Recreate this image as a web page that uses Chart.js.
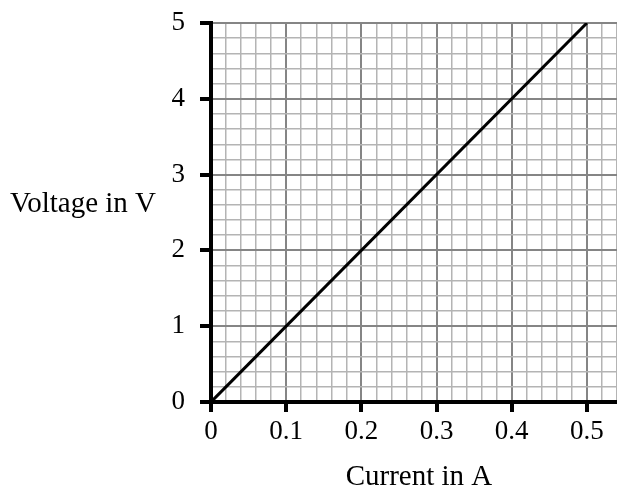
<!DOCTYPE html>
<html>
<head>
<meta charset="utf-8">
<script src="https://cdn.jsdelivr.net/npm/chart.js@4/dist/chart.umd.min.js"></script>
<style>
  body { margin: 0; background: #fff; }
  #wrap { width: 617px; height: 489px; }
</style>
</head>
<body>
<div id="wrap"><canvas id="chart" width="617" height="489"></canvas></div>
<script>
// data
const currents = [0, 0.5];      // A
const voltages = [0, 5];        // V
const xTickLabels = ["0", "0.1", "0.2", "0.3", "0.4", "0.5"];
const yTickLabels = ["0", "1", "2", "3", "4", "5"];
const xTitle = "Current in A";
const yTitle = "Voltage in V";

const FONT = '"Liberation Serif", "Times New Roman", serif';

// major line every 5th minor step
function isMajor(v, per) {
  return Math.abs(Math.round(v * per) % 5) === 0;
}

// both axis titles are horizontal, drawn by hand
const titlesPlugin = {
  id: "axisTitles",
  afterDraw(chart) {
    const ctx = chart.ctx;
    ctx.save();
    ctx.font = "29px " + FONT;
    ctx.fillStyle = "#000";
    ctx.textBaseline = "alphabetic";
    ctx.textAlign = "left";
    ctx.fillText(yTitle, 10, 212);
    ctx.textAlign = "center";
    ctx.fillText(xTitle, 419, 485);
    ctx.restore();
  }
};

new Chart(document.getElementById("chart"), {
  type: "scatter",
  data: {
    datasets: [{
      data: currents.map((c, i) => ({ x: c, y: voltages[i] })),
      showLine: true,
      borderColor: "#000",
      borderWidth: 3,
      pointRadius: 0,
    }],
  },
  options: {
    responsive: false,
    animation: false,
    layout: { padding: { top: 23, left: 0, right: 0, bottom: 0 } },
    plugins: { legend: { display: false }, tooltip: { enabled: false } },
    scales: {
      x: {
        type: "linear",
        min: 0,
        max: 0.54,
        afterFit: (s) => {
          s.height = 87;
          s.paddingLeft = 0;
          s.paddingRight = 0;
        },
        ticks: {
          stepSize: 0.02,
          autoSkip: false,
          maxRotation: 0,
          padding: 4,
          color: "#000",
          font: { family: FONT, size: 27 },
          callback: (v) => isMajor(v, 50) ? xTickLabels[Math.round(v * 10)] : "",
        },
        grid: {
          color: (c) => isMajor(c.tick.value, 50) ? "#858585" : "#b4b4b4",
          lineWidth: (c) => isMajor(c.tick.value, 50) ? 2 : 1.5,
          tickColor: (c) => isMajor(c.tick.value, 50) ? "#000" : "rgba(0,0,0,0)",
          tickWidth: 4,
          tickLength: 10,
        },
        border: { color: "#000", width: 4 },
      },
      y: {
        min: 0,
        max: 5,
        afterFit: (s) => {
          s.width = 211;
          s.paddingTop = 0;
          s.paddingBottom = 0;
        },
        ticks: {
          stepSize: 0.2,
          autoSkip: false,
          padding: 15,
          color: "#000",
          font: { family: FONT, size: 27 },
          callback: (v) => isMajor(v, 5) ? yTickLabels[Math.round(v)] : "",
        },
        grid: {
          color: (c) => isMajor(c.tick.value, 5) ? "#858585" : "#b4b4b4",
          lineWidth: (c) => isMajor(c.tick.value, 5) ? 2 : 1.5,
          tickColor: (c) => isMajor(c.tick.value, 5) ? "#000" : "rgba(0,0,0,0)",
          tickWidth: 4,
          tickLength: 11,
        },
        border: { color: "#000", width: 4 },
      },
    },
  },
  plugins: [titlesPlugin],
});
</script>
</body>
</html>
